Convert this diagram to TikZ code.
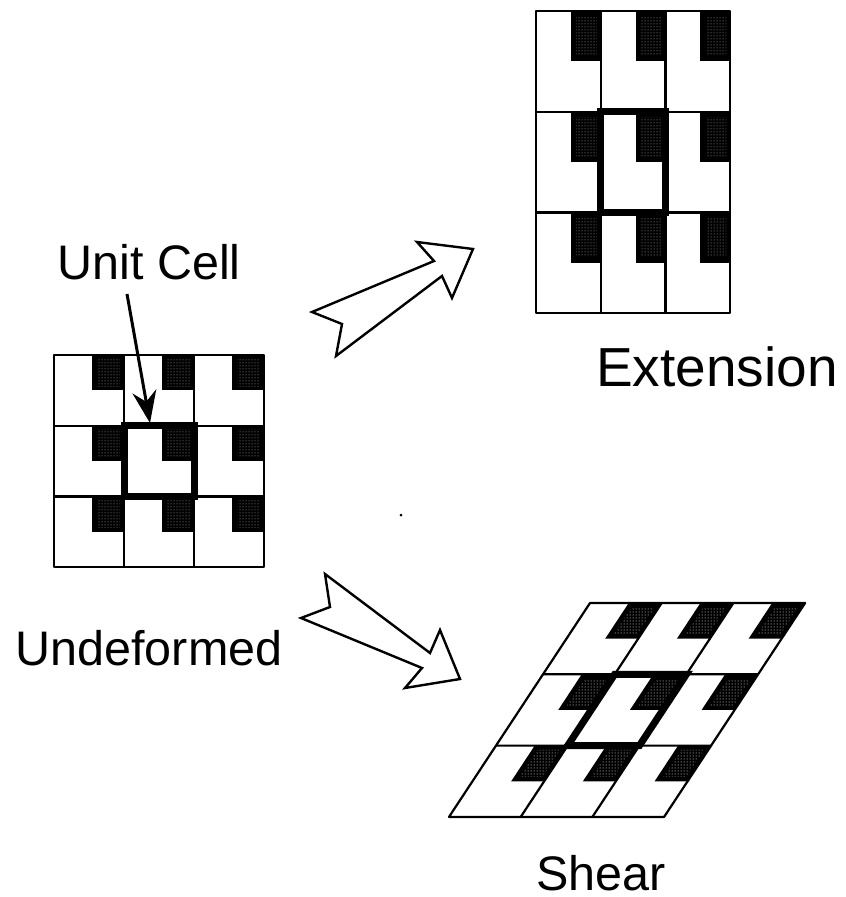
\documentclass[tikz,border=0pt]{standalone}
\usepackage{fontspec}
\setmainfont{Liberation Sans}
\usetikzlibrary{arrows.meta,patterns}
\tikzset{
  lbl/.style={font=\fontsize{48.5}{54}\selectfont,inner sep=0pt,anchor=center},
  lblbig/.style={font=\fontsize{55}{60}\selectfont,inner sep=0pt,anchor=center},
  gridline/.style={draw=black,line width=2.2pt,line join=round},
  outline/.style={draw=black,fill=white,line width=2.4pt,line join=miter},
  cellbold/.style={draw=black,line width=7pt,line join=miter},
  darkfill/.style={fill=black}
}
\newcommand{\latticecells}[1]{%
  \foreach \c in {0,1,2}{\foreach \r in {0,1,2}{
    \fill[darkfill] (\c+.54,\r) -- (\c+1,\r) -- (\c+1,\r+.5) -- (\c+.54,\r+.5) -- cycle;
    \fill[pattern=dots,pattern color=#1] (\c+.62,\r+.06) -- (\c+.94,\r+.06) -- (\c+.94,\r+.44) -- (\c+.62,\r+.44) -- cycle;
  }}
  \draw[gridline] (0,0) -- (3,0) -- (3,3) -- (0,3) -- cycle;
  \draw[gridline] (1,0) -- (1,3) (2,0) -- (2,3) (0,1) -- (3,1) (0,2) -- (3,2);
  \draw[cellbold] (1,1) -- (2,1) -- (2,2) -- (1,2) -- cycle;
}
\begin{document}
\begin{tikzpicture}[x=1pt,y=-1pt]
\useasboundingbox (0,0) rectangle (846,897);
\fill[white] (0,0) rectangle (846,897);
% undeformed
\begin{scope}[shift={(54,355)},x={(70pt,0pt)},y={(0pt,-70.7pt)}]
  \latticecells{black!30}
\end{scope}
% extension
\begin{scope}[shift={(536,11)},x={(64.7pt,0pt)},y={(0pt,-100.7pt)}]
  \latticecells{black!30}
\end{scope}
% shear
\begin{scope}[shift={(590,603)},x={(71.7pt,0pt)},y={(-47pt,-71.3pt)}]
  \latticecells{white}
\end{scope}
% block arrows
\draw[outline] (312,312) -- (342,324) -- (336,356) -- (442,276) -- (452,298) -- (473,249) -- (417,242) -- (434,261) -- cycle;
\draw[outline] (325,574) -- (330,607) -- (301,618) -- (422,668) -- (405,688) -- (460,679) -- (440,630) -- (430,653) -- cycle;
% labels
\node[lbl] (unit) at (149,262) {Unit Cell};
\node[lblbig] (ext) at (717,367) {Extension};
\node[lbl] (und) at (149,648) {Undeformed};
\node[lbl] (shr) at (601,873) {Shear};
\coordinate (cellTop) at (150,423);
\draw[line width=3pt,-{Stealth[length=32pt,width=24pt]}] (127,294) -- (cellTop);
\fill (401,515) circle (1.5pt);
\end{tikzpicture}
\end{document}
